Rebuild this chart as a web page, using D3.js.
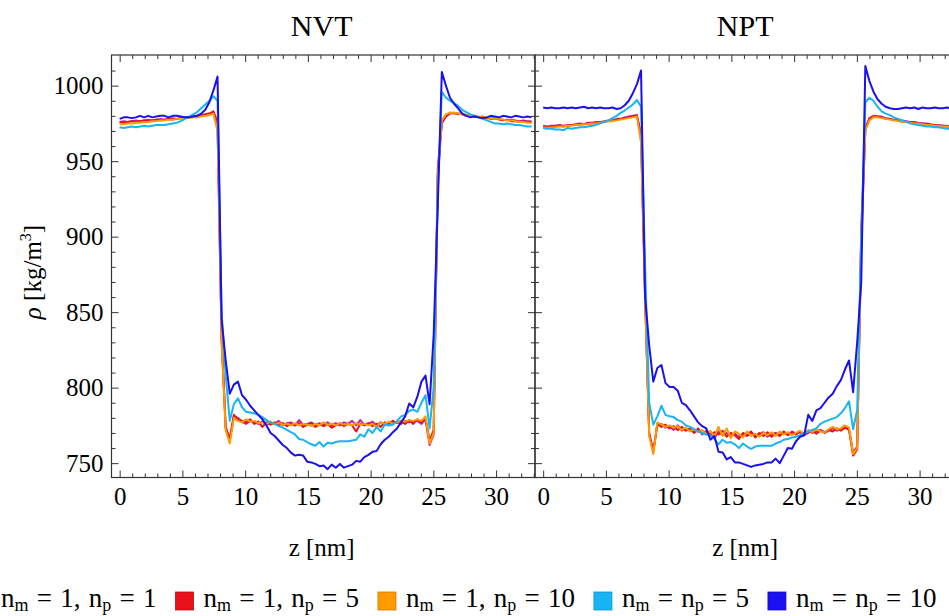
<!DOCTYPE html>
<html><head><meta charset="utf-8">
<script src="https://cdn.jsdelivr.net/npm/d3@7"></script>
<style>
html,body{margin:0;padding:0;background:#fff;overflow:hidden}
svg{display:block}
text{font-family:"Liberation Serif","Times New Roman",serif;fill:#000}
</style></head><body>
<svg id="chart" width="949" height="616"></svg>
<script>
// ---------------- data ----------------
const zNm = [0, 0.325, 0.65, 0.975, 1.3, 1.625, 1.95, 2.275, 2.6, 2.925,
 3.25, 3.575, 3.9, 4.225, 4.55, 4.875, 5.2, 5.525, 5.85, 6.175,
 6.5, 6.825, 7.15, 7.475, 7.8, 8.125, 8.45, 8.775, 9.1, 9.425,
 9.75, 10.075, 10.4, 10.725, 11.05, 11.375, 11.7, 12.025, 12.35, 12.675,
 13, 13.325, 13.65, 13.975, 14.3, 14.625, 14.95, 15.275, 15.6, 15.925,
 16.25, 16.575, 16.9, 17.225, 17.55, 17.875, 18.2, 18.525, 18.85, 19.175,
 19.5, 19.825, 20.15, 20.475, 20.8, 21.125, 21.45, 21.775, 22.1, 22.425,
 22.75, 23.075, 23.4, 23.725, 24.05, 24.375, 24.7, 25.025, 25.35, 25.675,
 26, 26.325, 26.65, 26.975, 27.3, 27.625, 27.95, 28.275, 28.6, 28.925,
 29.25, 29.575, 29.9, 30.225, 30.55, 30.875, 31.2, 31.525, 31.85, 32.175,
 32.5, 32.825];

const panelTitles = ["NVT", "NPT"];
const seriesLabels = ["n_m = 1, n_p = 1", "n_m = 1, n_p = 5", "n_m = 1, n_p = 10", "n_m = n_p = 5", "n_m = n_p = 10"];
const seriesColors = ["#cc2299", "#e8101a", "#ff9a00", "#18b4f4", "#1a10f0"];
const xMajorTicks = [0, 5, 10, 15, 20, 25, 30];
const yMajorTicks = [750, 800, 850, 900, 950, 1000];
const xAxisTitle = "z [nm]";

// NVT
const nvt_m1p1 = [976, 976.5, 976, 976.5, 977, 976.5, 977, 977.5, 977, 977.5, 978, 977.5, 978, 978.5, 978, 978.5, 979, 979, 979.5, 979.5, 980, 980.5, 981, 982, 974,
 832, 773, 765, 781, 780,
 777.5, 776, 778, 777, 776, 777.5, 775.5, 777, 776, 778, 775, 776.5, 777, 775, 778.5, 775.5, 776, 777, 775, 776.5, 775.5, 777, 775, 776.5, 775, 777, 776, 778, 775, 778.5, 775.5, 776, 777.5, 775, 777, 775.5, 777, 776.5, 777.5, 776, 778, 777, 777.5, 778, 776, 779, 762, 769, 940,
 975, 979.5, 981.5, 982, 981, 981.5, 980.5, 980, 980, 979, 979, 978.5, 978.5, 978, 978, 977.5, 977, 977.5, 977, 976.5, 977, 976.5, 976.5];
const nvt_m1p5 = [976, 975.5, 976, 976.5, 976, 976.5, 977, 976.5, 977, 977.5, 977, 977.5, 978, 977.5, 978, 978.5, 978.5, 979, 979.5, 980, 980.5, 981, 981.5, 983, 976,
 835, 774, 766, 782, 779,
 778, 777, 779, 776, 777.5, 774, 777, 775.5, 777, 775, 776.5, 774.5, 776, 775, 776.5, 774, 775.5, 776.5, 774, 775.5, 774.5, 776, 773.5, 775, 776.5, 774.5, 776, 775, 771, 776, 775, 776.5, 774.5, 776, 774, 777, 776, 778, 776.5, 778, 776, 778.5, 776, 779, 777, 779.5, 765, 772, 945,
 976, 980, 982, 981.5, 981.5, 981, 980, 980.5, 979.5, 979, 979.5, 978.5, 978, 978.5, 977.5, 977, 977.5, 976.5, 976.5, 976, 976.5, 976, 976];
const nvt_m1p10 = [974.5, 974.5, 975, 975, 975.5, 975.5, 976, 976, 976.5, 976.5, 977, 977, 977.5, 977.5, 978, 978, 978.5, 978.5, 979, 979, 979.5, 980, 980.5, 981.5, 970,
 830, 772, 763, 780, 778,
 777, 779, 777.5, 778, 776.5, 777, 776, 777.5, 776, 776.5, 775.5, 776, 775, 776.5, 775, 776, 775.5, 774.5, 776, 775, 777, 775.5, 776, 775, 776.5, 775.5, 776, 775, 776.5, 775.5, 776, 775, 776, 774, 777, 776, 777.5, 776, 777, 778, 777.5, 778.5, 778, 779, 778, 781, 763, 770, 940,
 977, 981, 982, 982, 981.5, 981, 980.5, 980, 980, 979.5, 979, 979, 978.5, 978, 978, 977.5, 977, 977, 976.5, 976, 976, 975.5, 975.5];
const nvt_m5p5 = [972.5, 972, 972.5, 973, 972.5, 973, 973.5, 973, 973.5, 974, 974, 974, 974.5, 975, 975.5, 976.5, 978, 979.5, 981, 982.5, 985, 987.5, 990, 993, 990,
 850, 808, 778, 789, 793, 787, 784, 783.5, 783, 782, 780.5, 778.5, 777, 776, 774.5, 773.5, 772, 770.5, 769,
 766, 765.5, 764, 762.5, 761.5, 764, 761, 763.5, 763, 764, 764.5, 764.5, 764.5, 765, 765.5, 769, 767.5, 772.5, 770, 774, 771, 775.5, 775, 775.5, 778, 781, 782, 784.5, 785.5, 784, 790, 795, 773, 800, 930,
 996, 992, 990, 988.5, 986.5, 984, 982.5, 981, 980, 979, 978, 977, 976, 975, 975, 974.5, 975, 974.5, 974, 974, 973.5, 973, 973];
const nvt_m10p10 = [978, 979, 979, 978.5, 979, 980, 979, 980, 979, 979.5, 980, 980, 979, 980, 980, 979.5, 979, 979, 979.5, 980, 981.5, 984, 989, 997, 1006,
 845, 818, 796, 802, 804, 795, 792, 788, 785, 782, 779, 775, 770, 768, 765, 762, 760, 757, 755, 755.5, 755, 751, 750.5, 749.5, 748, 748.5,
 746, 749, 747, 749.5, 747, 748, 749, 751.5, 751, 754, 755.5, 757.5, 758, 762.5, 765.5, 767.5, 770.5, 773, 777, 781, 789.5, 787, 794, 804, 808, 789, 835, 920, 1009,
 1000, 992, 988, 985, 981.5, 980, 979, 979.5, 979, 978.5, 979, 980, 979.5, 979, 980, 979.5, 979, 980, 979.5, 979, 979.5, 979];

// NPT
const npt_m1p1 = [973.5, 973, 973.5, 973.5, 974, 973.5, 974, 974, 974.5, 975, 974.5, 975.5, 975.5, 976, 976, 976.5, 977, 977, 978, 978, 979, 979.5, 980, 980.5, 966,
 858, 769, 758, 775, 776, 773.5, 774.5, 772, 775, 771.5, 773, 772, 770.5, 773, 769, 771.5, 769.5, 766.5, 771, 768.5, 770, 768, 769.5, 767.5, 769, 768, 770, 768.5, 769, 770.5, 767.5, 769, 770, 768.5, 770, 769, 771, 769.5, 770.5, 769, 771.5, 770, 771, 772, 770.5, 771.5, 773, 771.5, 772.5, 774, 772.5, 757, 761, 895,
 971, 978.5, 980, 979.5, 979.5, 978.5, 978, 977.5, 977, 977, 976.5, 976, 976, 975.5, 975, 975, 974.5, 974, 974, 973.5, 973.5, 973, 973];
const npt_m1p5 = [973, 972.5, 973, 973, 973.5, 973, 973.5, 974, 974, 974.5, 974.5, 975, 975, 975.5, 976, 976, 976.5, 977, 977.5, 978, 978.5, 979, 979.5, 980, 968,
 862, 770, 757.5, 776, 774, 775.5, 773, 774.5, 772, 774, 771.5, 773, 770, 772.5, 769.5, 771, 768, 770.5, 769, 771.5, 767.5, 770, 768.5, 766, 770, 768.5, 771, 767, 770, 768, 770.5, 767.5, 769.5, 768, 771, 768.5, 770, 769, 771, 768.5, 770, 772, 769.5, 771.5, 770, 772, 771, 773, 771.5, 773.5, 772, 755, 759, 905,
 972, 978, 979.5, 979.5, 979, 978, 978, 977, 977.5, 976.5, 976, 976, 975.5, 975, 975, 974.5, 974, 974, 973.5, 973.5, 973, 973, 972.5];
const npt_m1p10 = [972.5, 972, 972.5, 972.5, 973, 973, 973.5, 973.5, 974, 974, 974.5, 974.5, 975, 975, 975.5, 976, 976.5, 976.5, 977, 977.5, 978, 978.5, 979, 979.5, 962,
 860, 768, 756, 777, 775.5, 774, 775, 773.5, 774.5, 772, 773.5, 771, 772.5, 770.5, 772, 769, 771.5, 767.5, 774, 768, 773, 766.5, 771, 769.5, 767, 771, 768, 769.5, 767.5, 770, 768.5, 770.5, 768, 771, 769, 770.5, 768.5, 770, 771.5, 769.5, 772, 770.5, 772.5, 771, 770.5, 772.5, 774, 772.5, 773, 775, 773.5, 756, 760, 900,
 970, 977, 979, 979, 978.5, 978, 977.5, 977, 976.5, 976, 976, 975.5, 975, 975, 974.5, 974, 974, 973.5, 973.5, 973, 973, 972.5, 972.5];
const npt_m5p5 = [972, 971.5, 971.5, 971, 971, 970.5, 972, 971.5, 972, 972.5, 972.5, 973, 973.5, 974, 975, 976, 977, 978.5, 980, 982, 983.5, 985.5, 987.5, 990.5, 986,
 880, 790, 775.5, 781, 788, 782, 781, 780.5, 778.5, 777.5, 775, 774, 772.5, 771, 770, 769, 768.5, 766, 762.5, 765.5, 763.5, 764, 762.5, 760, 763, 761, 759.5, 761, 761.5, 761.5, 761.5, 761.5, 763, 764, 765.5, 766, 767, 767.5, 768.5, 770, 771, 772, 773, 776, 777.5, 778.5, 779.5, 780.5, 783, 786.5, 791, 772.5, 785, 900, 989,
 992, 990, 986, 983, 981.5, 980.5, 979, 978, 977, 976, 975, 974.5, 974, 973.5, 973, 973, 972.5, 972.5, 972, 971.5, 971.5, 971];
const npt_m10p10 = [985.5, 985, 985.5, 985, 985, 985.5, 985, 985.5, 985, 985.5, 986, 985, 985.5, 985, 985.5, 985, 985, 985.5, 984.5, 985, 987, 990, 995, 1001, 1010,
 860, 828, 804, 813, 815, 803, 800.5, 800.5, 798, 790, 788.5, 785, 781, 777, 774.5, 773, 765.5, 768, 757.5, 757, 752.5, 754, 750.5, 750.5, 749.5, 748.5, 747.5, 748.5, 749, 749.5, 750.5, 750.5, 753, 750, 755, 760, 759.5, 764.5, 767.5, 768.5, 782, 778, 785, 786.5, 790, 793.5, 796, 801, 805, 812, 818, 797, 830, 870, 1013,
 1003, 996, 991, 988, 986, 985, 984.5, 984.5, 985, 985.5, 985, 985.5, 984.5, 985.5, 985, 985, 985.5, 985, 985, 985.5, 985, 985];

const panelSeries = [
  [nvt_m1p1, nvt_m1p5, nvt_m1p10, nvt_m5p5, nvt_m10p10],
  [npt_m1p1, npt_m1p5, npt_m1p10, npt_m5p5, npt_m10p10]
];

// ---------------- layout ----------------
const svg = d3.select("#chart");
const plotTop = 55, plotBottom = 477.5;
const panelX = [[111.5, 535], [535, 958.5]];
const xDomain = [-0.65, 33.1];
const yDomain = [740.5, 1020.3];
const FONT = 25;
const tickColor = "#333";

function styleAxis(g, size) {
  g.select(".domain").remove();
  g.selectAll(".tick line").attr("stroke", tickColor).attr("stroke-width", 1);
  g.selectAll("text").attr("font-size", size).attr("fill", "#000");
  g.attr("font-family", null).attr("font-size", null);
}

const xMinor = d3.range(0, 34).filter(v => v % 5 !== 0 && v <= xDomain[1]);
const yMinor = d3.range(750, 1020, 10).filter(v => v % 50 !== 0);

panelTitles.forEach((title, p) => {
  const [x0, x1] = panelX[p];
  const x = d3.scaleLinear().domain(xDomain).range([x0, x1]);
  const y = d3.scaleLinear().domain(yDomain).range([plotBottom, plotTop]);
  const g = svg.append("g");

  const clipId = "clip" + p;
  svg.append("clipPath").attr("id", clipId).append("rect")
    .attr("x", x0).attr("y", plotTop).attr("width", x1 - x0).attr("height", plotBottom - plotTop);

  const line = d3.line().x((d, i) => x(zNm[i])).y(d => y(d));
  const lg = g.append("g").attr("clip-path", `url(#${clipId})`);
  panelSeries[p].forEach((vals, s) => {
    lg.append("path").datum(vals).attr("d", line)
      .attr("fill", "none").attr("stroke", seriesColors[s])
      .attr("stroke-width", 2).attr("stroke-linejoin", "round");
  });

  const ab = g.append("g").attr("transform", `translate(0,${plotBottom})`)
    .call(d3.axisBottom(x).tickValues(xMajorTicks).tickSize(-7).tickPadding(10).tickFormat(d3.format("d")));
  styleAxis(ab, FONT);
  styleAxis(g.append("g").attr("transform", `translate(0,${plotBottom})`)
    .call(d3.axisBottom(x).tickValues(xMinor).tickSize(-4).tickFormat("")), FONT);
  styleAxis(g.append("g").attr("transform", `translate(0,${plotTop})`)
    .call(d3.axisTop(x).tickValues(xMajorTicks).tickSize(-7).tickFormat("")), FONT);
  styleAxis(g.append("g").attr("transform", `translate(0,${plotTop})`)
    .call(d3.axisTop(x).tickValues(xMinor).tickSize(-4).tickFormat("")), FONT);

  const al = g.append("g").attr("transform", `translate(${x0},0)`)
    .call(d3.axisLeft(y).tickValues(yMajorTicks).tickSize(-7).tickPadding(8)
      .tickFormat(p === 0 ? d3.format("d") : ""));
  styleAxis(al, FONT);
  styleAxis(g.append("g").attr("transform", `translate(${x0},0)`)
    .call(d3.axisLeft(y).tickValues(yMinor).tickSize(-4).tickFormat("")), FONT);
  styleAxis(g.append("g").attr("transform", `translate(${x1},0)`)
    .call(d3.axisRight(y).tickValues(yMajorTicks).tickSize(-7).tickFormat("")), FONT);
  styleAxis(g.append("g").attr("transform", `translate(${x1},0)`)
    .call(d3.axisRight(y).tickValues(yMinor).tickSize(-4).tickFormat("")), FONT);

  g.append("rect").attr("x", x0).attr("y", plotTop).attr("width", x1 - x0).attr("height", plotBottom - plotTop)
    .attr("fill", "none").attr("stroke", tickColor).attr("stroke-width", 1.2);

  const cx = x(16.1);
  g.append("text").attr("x", cx).attr("y", 36).attr("text-anchor", "middle")
    .attr("font-size", 30).text(title);
  g.append("text").attr("x", cx).attr("y", 556).attr("text-anchor", "middle")
    .attr("font-size", FONT).text(xAxisTitle);
});

// y-axis title
const yt = svg.append("text").attr("transform", "translate(41,272) rotate(-90)")
  .attr("text-anchor", "middle").attr("font-size", FONT);
yt.append("tspan").attr("font-style", "italic").text("ρ");
yt.append("tspan").text(" [kg/m");
yt.append("tspan").attr("font-size", 16).attr("dy", -10).text("3");
yt.append("tspan").attr("dy", 10).text("]");

// legend
const LEG_FONT = 27, LEG_SUB = 18, SUB_DY = 4;
function addLabel(sel, label) {
  const parts = label.split(/(_[a-z])/);
  let shifted = false;
  parts.forEach(part => {
    if (!part) return;
    if (part.startsWith("_")) {
      sel.append("tspan").attr("font-size", LEG_SUB).attr("dy", SUB_DY).text(part.slice(1));
      shifted = true;
    } else {
      const t = sel.append("tspan").text(part);
      if (shifted) { t.attr("dy", -SUB_DY); shifted = false; }
    }
  });
}
const legendY = 607, markerSize = 18;
let lx = -27;
const leg = svg.append("g");
seriesLabels.forEach((lab, s) => {
  leg.append("rect").attr("x", lx).attr("y", legendY - 15).attr("width", markerSize).attr("height", markerSize)
    .attr("fill", seriesColors[s]).attr("stroke", d3.color(seriesColors[s]).darker(0.6)).attr("stroke-width", 0.8);
  lx += markerSize + 10;
  const t = leg.append("text").attr("x", lx).attr("y", legendY).attr("font-size", LEG_FONT)
    .attr("word-spacing", 1.5);
  addLabel(t, lab);
  lx += t.node().getComputedTextLength() + 19;
});
</script>
</body></html>
